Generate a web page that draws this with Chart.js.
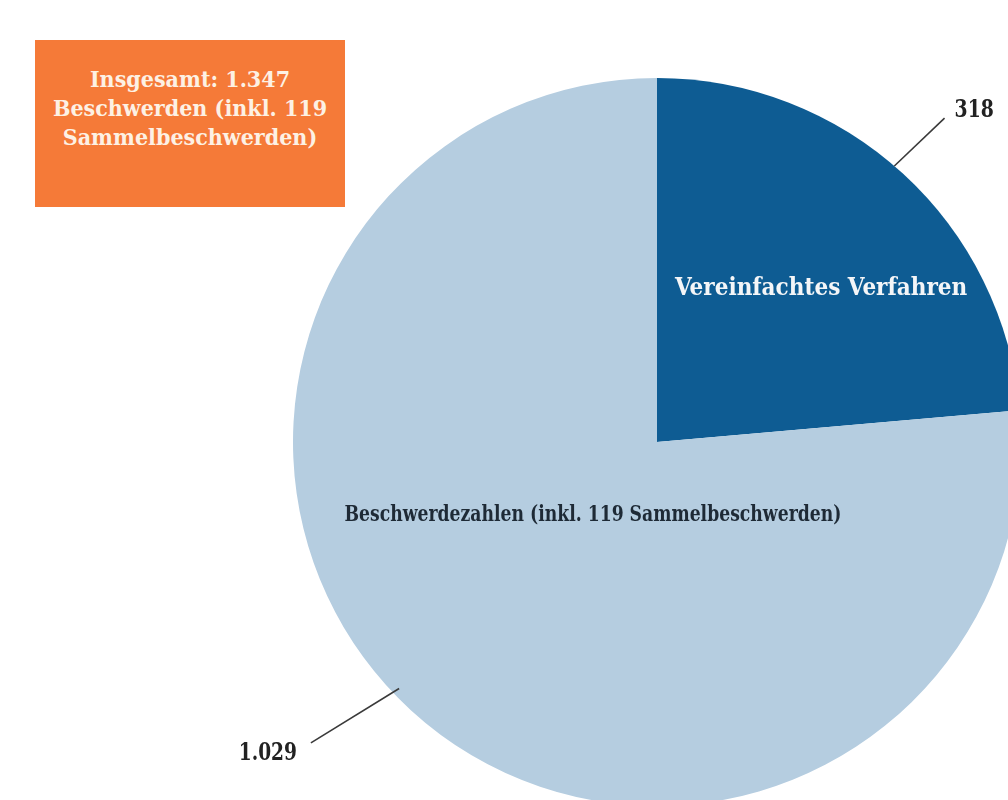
<!DOCTYPE html>
<html>
<head>
<meta charset="utf-8">
<script src="https://cdn.jsdelivr.net/npm/chart.js@4.4.1/dist/chart.umd.min.js"></script>
<style>
  html, body { margin: 0; padding: 0; background: #ffffff; overflow: hidden; width: 1008px; height: 800px; }
  #wrap { position: absolute; left: 0; top: 0; width: 1040px; height: 830px; }
  #box {
    position: absolute; left: 35px; top: 40px; width: 310px; height: 167px;
    background: #f57a38; color: #fdf1e4; box-sizing: border-box;
    font-family: "DejaVu Serif Condensed", "DejaVu Serif", serif; font-weight: bold;
    font-size: 23px; line-height: 29px; text-align: center; padding-top: 24px;
  }
</style>
</head>
<body>
<div id="wrap"><canvas id="c" width="1040" height="830"></canvas></div>
<div id="box">Insgesamt: 1.347<br>Beschwerden (inkl. 119<br>Sammelbeschwerden)</div>
<script>
const categories = ["Vereinfachtes Verfahren", "Beschwerdezahlen (inkl. 119 Sammelbeschwerden)"];
const values = [318, 1029];
const valueLabels = ["318", "1.029"];
const colors = ["#0e5c93", "#b5cde0"];

const FONT = '"DejaVu Serif Condensed", "DejaVu Serif", serif';

function drawText(ctx, text, x, y, size, sx, align, color) {
  ctx.save();
  ctx.font = 'bold ' + size + 'px ' + FONT;
  ctx.fillStyle = color;
  ctx.textAlign = align;
  ctx.textBaseline = 'middle';
  ctx.translate(x, y);
  ctx.scale(sx, 1);
  ctx.fillText(text, 0, 0);
  ctx.restore();
}

const labelPlugin = {
  id: 'labels',
  afterDraw(chart) {
    const ctx = chart.ctx;
    const meta = chart.getDatasetMeta(0);
    const deg = Math.PI / 180;
    const leaders = [
      { a1: -1.8, r1: 1.0, a2: -0.9, r2: 1.19 },
      { a1: 3.8, r1: 0.98, a2: 6.5, r2: 1.26 }
    ];
    meta.data.forEach((arc, i) => {
      const cx = arc.x, cy = arc.y, R = arc.outerRadius;
      const mid = (arc.startAngle + arc.endAngle) / 2;
      const L = leaders[i];
      const x1 = cx + Math.cos(mid + L.a1 * deg) * R * L.r1, y1 = cy + Math.sin(mid + L.a1 * deg) * R * L.r1;
      const x2 = cx + Math.cos(mid + L.a2 * deg) * R * L.r2, y2 = cy + Math.sin(mid + L.a2 * deg) * R * L.r2;
      ctx.save();
      ctx.strokeStyle = '#3a3a3a';
      ctx.lineWidth = 1.6;
      ctx.beginPath(); ctx.moveTo(x1, y1); ctx.lineTo(x2, y2); ctx.stroke();
      ctx.restore();
      if (i === 0) {
        drawText(ctx, valueLabels[i], x2 + 10, y2 - 7, 24, 0.87, 'left', '#222222');
        drawText(ctx, categories[i], cx + R * 0.451, cy - R * 0.42, 24, 1.0, 'center', '#f4f6f8');
      } else {
        drawText(ctx, valueLabels[i], x2 - 14, y2 + 11, 24, 0.86, 'right', '#222222');
        drawText(ctx, categories[i], cx - R * 0.176, cy + R * 0.2, 22, 0.87, 'center', '#1e2a36');
      }
    });
  }
};

new Chart(document.getElementById('c'), {
  type: 'pie',
  data: {
    labels: categories,
    datasets: [{ data: values, backgroundColor: colors, borderWidth: 0 }]
  },
  options: {
    responsive: false,
    animation: false,
    layout: { padding: { left: 293, right: 19, top: 78, bottom: 24 } },
    plugins: { legend: { display: false }, tooltip: { enabled: false } }
  },
  plugins: [labelPlugin]
});
</script>
</body>
</html>
